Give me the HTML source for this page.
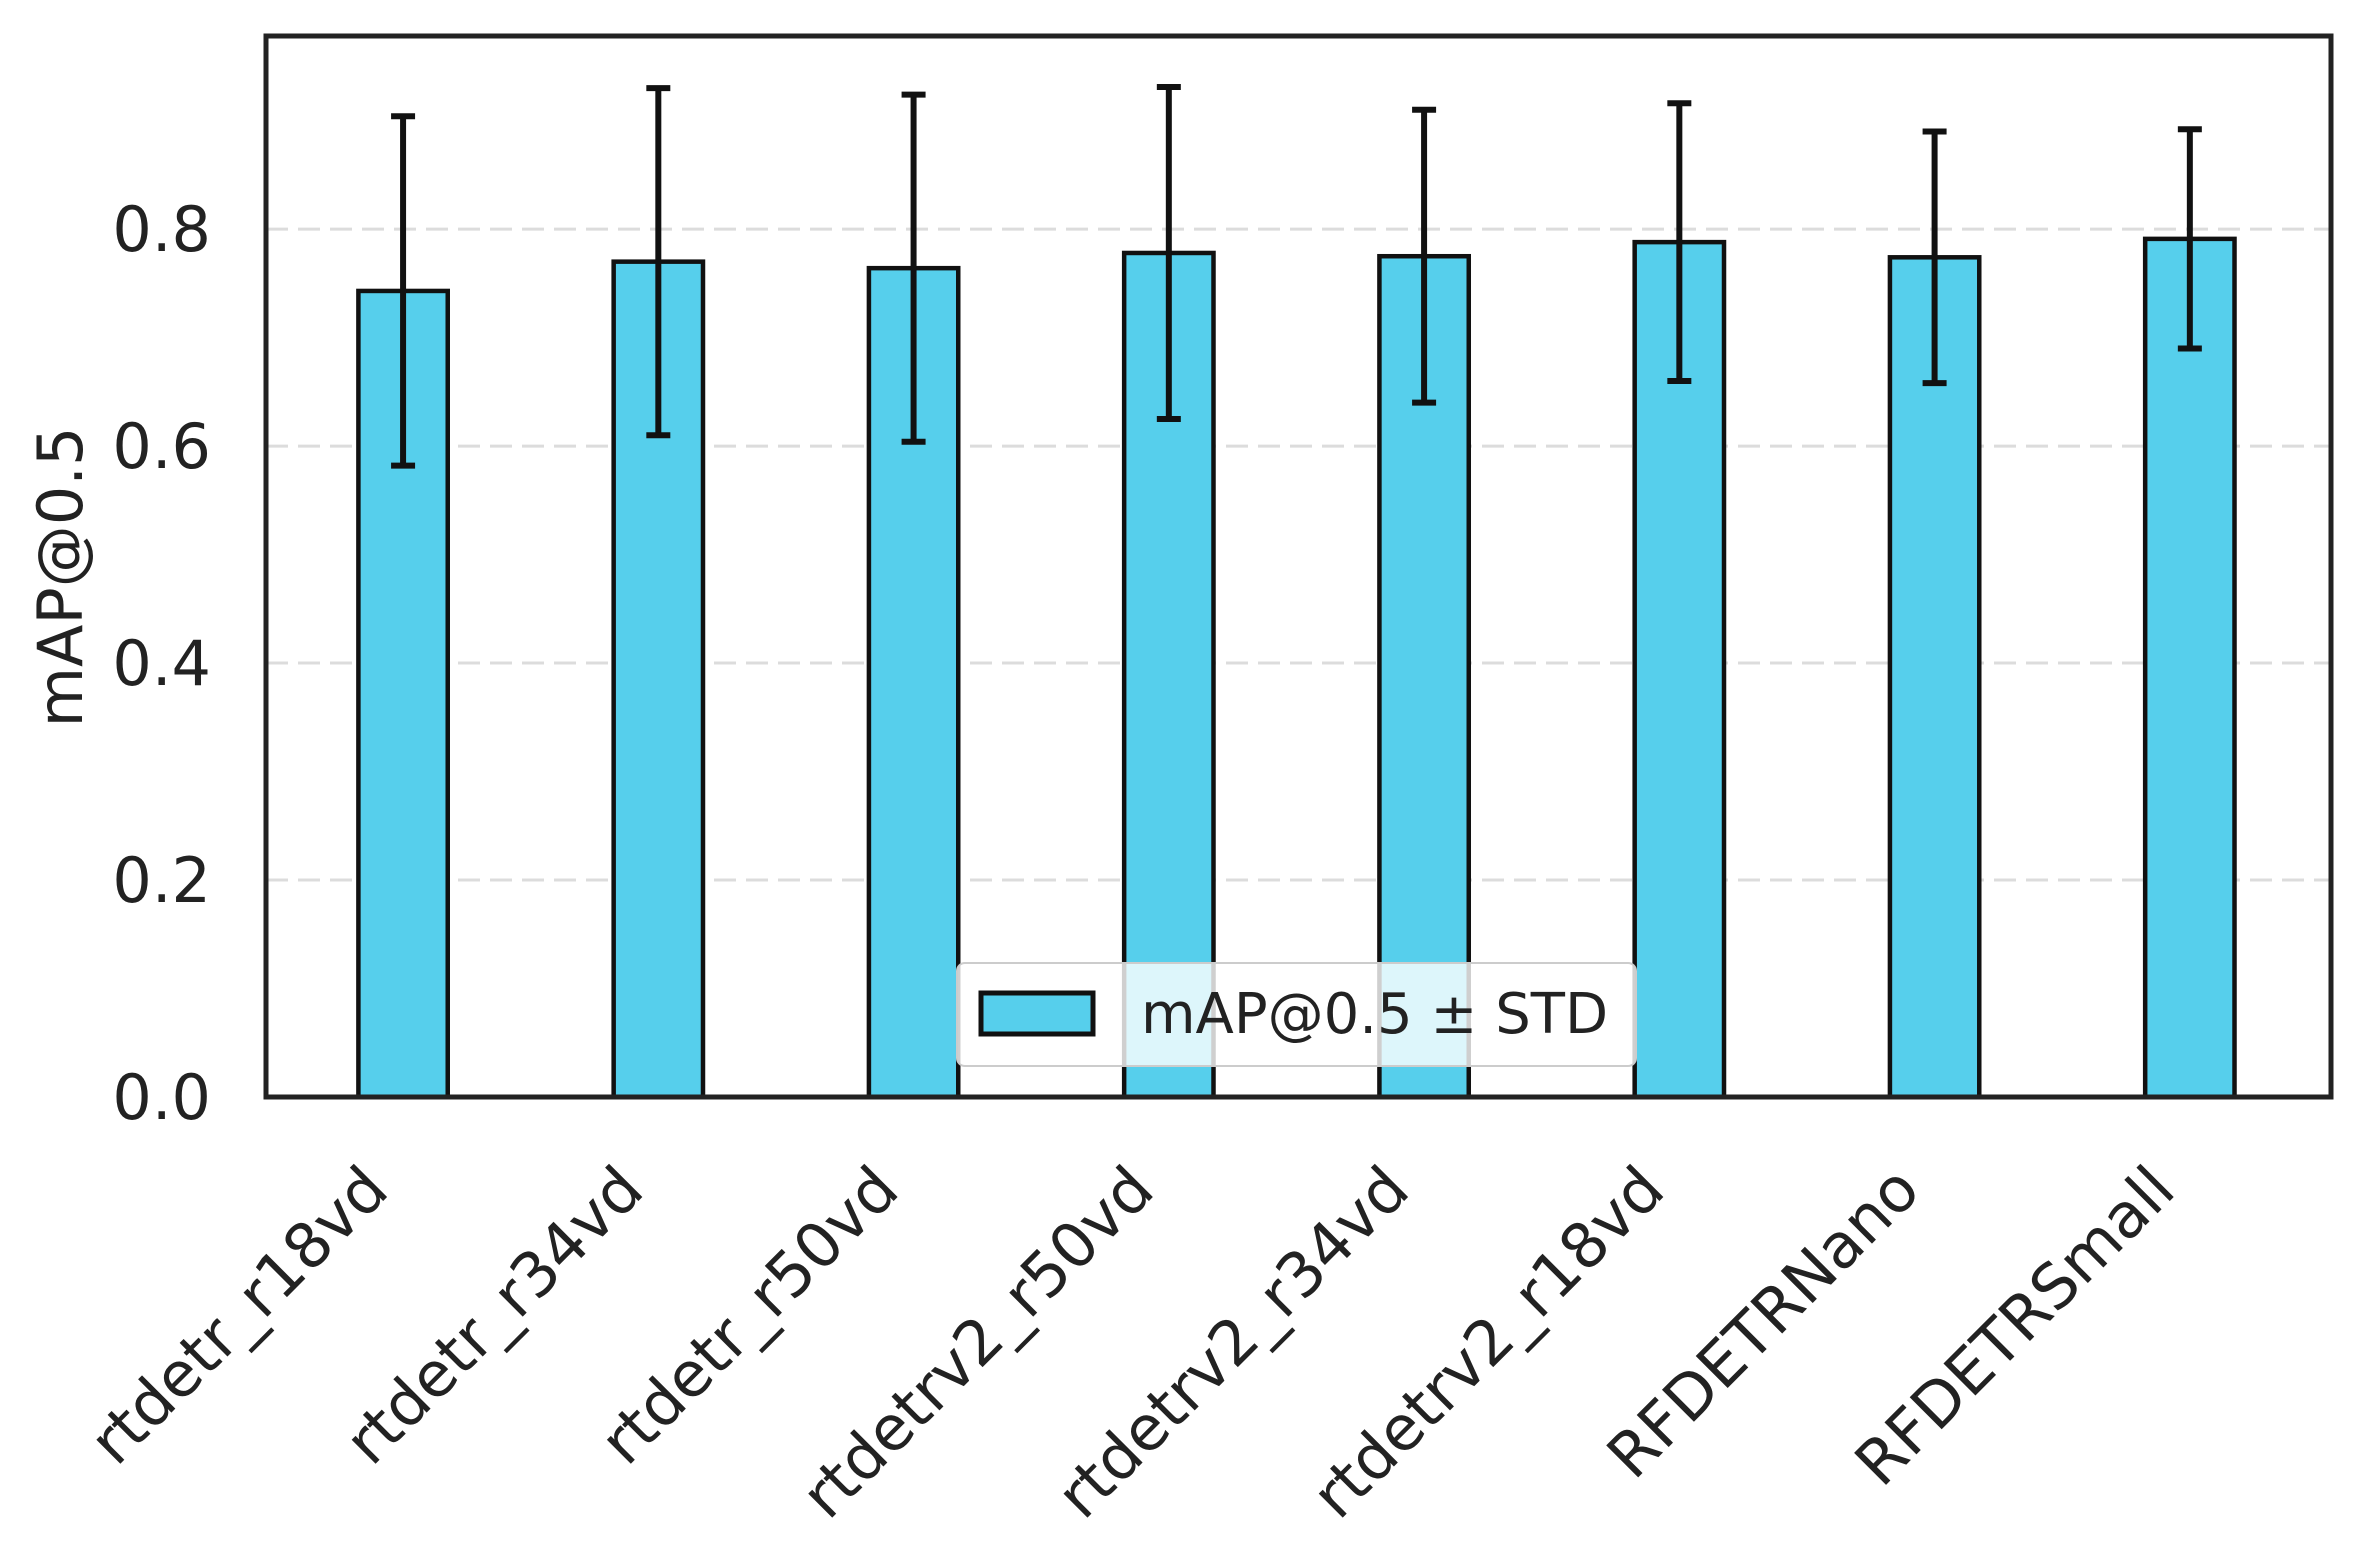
<!DOCTYPE html>
<html><head><meta charset="utf-8"><style>
html,body{margin:0;padding:0;background:#fff;}
svg{display:block;font-family:"DejaVu Sans","Liberation Sans",sans-serif;}
</style></head><body>
<svg id="chart" width="2360" height="1550" viewBox="0 0 2360 1550" xmlns="http://www.w3.org/2000/svg">
<rect width="2360" height="1550" fill="#fff"/>
<g id="grid"></g>
<g id="bars"></g>
<g id="errs"></g>
<rect x="266" y="36" width="2065" height="1061" fill="none" stroke="#222" stroke-width="5"/>
<g id="yticks"></g>
<g id="xticks"></g>
<text x="0" y="0" transform="translate(82,577) rotate(-90)" text-anchor="middle" font-size="62" fill="#222">mAP@0.5</text>
<g>
<rect x="957" y="963" width="679" height="103" rx="8" fill="#fff" fill-opacity="0.8" stroke="#ccc" stroke-width="2"/>
<rect x="981" y="993" width="112" height="41" fill="#56CFEC" stroke="#111" stroke-width="5"/>
<text x="1141" y="1033" font-size="56" fill="#222">mAP@0.5 ± STD</text>
</g>
</svg>
<script>
const categories = ["rtdetr_r18vd","rtdetr_r34vd","rtdetr_r50vd","rtdetrv2_r50vd","rtdetrv2_r34vd","rtdetrv2_r18vd","RFDETRNano","RFDETRSmall"];
const means = [0.743,0.770,0.764,0.778,0.775,0.788,0.774,0.791];
const stds = [0.161,0.160,0.160,0.153,0.135,0.128,0.116,0.101];
const yTicks = [0.0,0.2,0.4,0.6,0.8];
const yTickLabels = ["0.0","0.2","0.4","0.6","0.8"];

const NS = "http://www.w3.org/2000/svg";
const L=266,R=2331,T=36,B=1097;
const xMin=-0.537, xMax=7.553, yMin=0, yMax=0.978;
const xs = i => L + (i - xMin) / (xMax - xMin) * (R - L);
const ys = v => B - (v - yMin) / (yMax - yMin) * (B - T);
const bw = 0.35 * (R - L) / (xMax - xMin);
function mk(tag, attrs, parent){const e=document.createElementNS(NS,tag);for(const k in attrs)e.setAttribute(k,attrs[k]);parent.appendChild(e);return e;}
const grid=document.getElementById('grid'), bars=document.getElementById('bars'), errs=document.getElementById('errs');
const yt=document.getElementById('yticks'), xt=document.getElementById('xticks');
yTicks.forEach((v,i)=>{
  if(v>0){
    const g=mk('line',{x1:L,x2:R,y1:ys(v),y2:ys(v),stroke:'#dcdcdc','stroke-width':3,'stroke-dasharray':'22 10'},grid);
    
    
  }
  const t=mk('text',{x:211,y:ys(v)+22,'text-anchor':'end','font-size':62,fill:'#222'},yt);
  t.textContent=yTickLabels[i];
  
  
});
categories.forEach((c,i)=>{
  const cx=xs(i);
  const r=mk('rect',{x:cx-bw/2,y:ys(means[i]),width:bw,height:ys(0)-ys(means[i]),fill:'#56CFEC',stroke:'#111','stroke-width':4.5},bars);
  
  
  const hi=ys(means[i]+stds[i]), lo=ys(means[i]-stds[i]);
  const g=mk('g',{stroke:'#111','stroke-width':6},errs);
  
  
  mk('line',{x1:cx,x2:cx,y1:hi,y2:lo},g);
  mk('line',{x1:cx-12,x2:cx+12,y1:hi,y2:hi},g);
  mk('line',{x1:cx-12,x2:cx+12,y1:lo,y2:lo},g);
  const ax=cx-12, ay=1193;
  const t=mk('text',{x:0,y:0,'text-anchor':'end','font-size':62,fill:'#222',transform:`translate(${ax},${ay}) rotate(-45)`},xt);
  t.textContent=c;
  
  
});
</script>
</body></html>
